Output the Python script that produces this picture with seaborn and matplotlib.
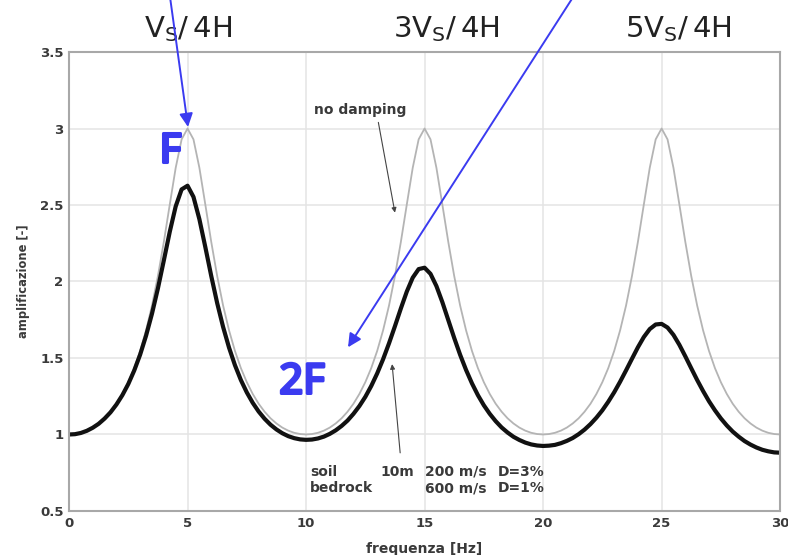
import numpy as np
import pandas as pd
import matplotlib
matplotlib.use("Agg")
import matplotlib.pyplot as plt
import matplotlib.patheffects as pe
import seaborn as sns

# amplification, 0..30 Hz every 0.25 Hz
amp_undamped = [
    1.000, 1.003, 1.011, 1.025, 1.045, 1.072, 1.106, 1.149, 1.201, 1.265,
    1.342, 1.434, 1.546, 1.681, 1.843, 2.036, 2.259, 2.503, 2.743, 2.929,
    3.000, 2.929, 2.743, 2.503, 2.259, 2.036, 1.843, 1.681, 1.546, 1.434,
    1.342, 1.265, 1.201, 1.149, 1.106, 1.072, 1.045, 1.025, 1.011, 1.003,
    1.000, 1.003, 1.011, 1.025, 1.045, 1.072, 1.106, 1.149, 1.201, 1.265,
    1.342, 1.434, 1.546, 1.681, 1.843, 2.036, 2.259, 2.503, 2.743, 2.929,
    3.000, 2.929, 2.743, 2.503, 2.259, 2.036, 1.843, 1.681, 1.546, 1.434,
    1.342, 1.265, 1.201, 1.149, 1.106, 1.072, 1.045, 1.025, 1.011, 1.003,
    1.000, 1.003, 1.011, 1.025, 1.045, 1.072, 1.106, 1.149, 1.201, 1.265,
    1.342, 1.434, 1.546, 1.681, 1.843, 2.036, 2.259, 2.503, 2.743, 2.929,
    3.000, 2.929, 2.743, 2.503, 2.259, 2.036, 1.843, 1.681, 1.546, 1.434,
    1.342, 1.265, 1.201, 1.149, 1.106, 1.072, 1.045, 1.025, 1.011, 1.003,
    1.000,
]
amp_damped = [
    1.000, 1.002, 1.010, 1.024, 1.044, 1.070, 1.104, 1.145, 1.196, 1.257,
    1.330, 1.418, 1.522, 1.646, 1.790, 1.955, 2.138, 2.325, 2.491, 2.602,
    2.626, 2.553, 2.407, 2.225, 2.036, 1.859, 1.703, 1.568, 1.453, 1.356,
    1.275, 1.207, 1.150, 1.103, 1.064, 1.033, 1.008, 0.989, 0.976, 0.968,
    0.965, 0.967, 0.974, 0.986, 1.004, 1.027, 1.056, 1.091, 1.135, 1.186,
    1.246, 1.317, 1.399, 1.492, 1.596, 1.708, 1.824, 1.934, 2.025, 2.081,
    2.090, 2.050, 1.970, 1.865, 1.748, 1.631, 1.521, 1.422, 1.334, 1.257,
    1.191, 1.135, 1.087, 1.046, 1.013, 0.985, 0.964, 0.947, 0.935, 0.928,
    0.925, 0.927, 0.932, 0.943, 0.958, 0.977, 1.002, 1.032, 1.068, 1.110,
    1.158, 1.214, 1.276, 1.345, 1.419, 1.495, 1.570, 1.637, 1.689, 1.719,
    1.723, 1.699, 1.651, 1.586, 1.511, 1.433, 1.356, 1.284, 1.217, 1.158,
    1.105, 1.059, 1.019, 0.986, 0.957, 0.934, 0.915, 0.900, 0.890, 0.883,
    0.881,
]
freq = np.linspace(0, 30, len(amp_undamped))

x_ticks = [0, 5, 10, 15, 20, 25, 30]
y_ticks = [0.5, 1, 1.5, 2, 2.5, 3, 3.5]
y_ticklabels = ["0.5", "1", "1.5", "2", "2.5", "3", "3.5"]

mode_labels = [r"$\mathregular{V_S/\,4H}$", r"$\mathregular{3V_S/\,4H}$",
               r"$\mathregular{5V_S/\,4H}$"]
mode_label_x = [5.0, 15.9, 25.7]

df = pd.DataFrame({"freq": freq, "undamped": amp_undamped, "damped": amp_damped})

sns.set_style("whitegrid")
plt.rcParams["font.family"] = ["DejaVu Sans"]

fig = plt.figure(figsize=(7.88, 5.55), dpi=100)
ax = fig.add_axes([0.0876, 0.0793, 0.9024, 0.827])

sns.lineplot(data=df, x="freq", y="undamped", ax=ax, color="#b4b4b4", lw=1.3)
sns.lineplot(data=df, x="freq", y="damped", ax=ax, color="#111111", lw=3.0)

ax.set_xlim(0, 30)
ax.set_ylim(0.5, 3.5)
ax.set_xticks(x_ticks)
ax.set_yticks(y_ticks)
ax.set_yticklabels(y_ticklabels)
ax.tick_params(axis="both", labelsize=9.5, colors="#3a3a3a", direction="in",
               length=3, pad=4)
for lab in ax.get_xticklabels() + ax.get_yticklabels():
    lab.set_fontweight("bold")
ax.grid(True, color="#e4e4e4", lw=1.1)
for sp in ax.spines.values():
    sp.set_color("#a8a8a8")
    sp.set_linewidth(1.5)

ax.set_xlabel("frequenza [Hz]", fontsize=10, fontweight="bold", color="#3a3a3a",
              labelpad=9)
ax.set_ylabel("amplificazione [-]", fontsize=8.3, fontweight="bold", color="#3a3a3a",
              labelpad=7)

for lab, xm in zip(mode_labels, mode_label_x):
    ax.text(xm, 3.65, lab, fontsize=21, ha="center", va="center", color="#222222",
            clip_on=False)

blue = "#3b3bf0"
bold_fx = [pe.withStroke(linewidth=2.2, foreground=blue)]
ax.text(4.25, 2.85, "F", fontsize=30, color=blue, family="Noto Sans",
        ha="center", va="center", path_effects=bold_fx)
ax.text(9.83, 1.34, "2F", fontsize=30, color=blue, family="Noto Sans",
        ha="center", va="center", path_effects=bold_fx)
ax.annotate("", xy=(5.02, 3.01), xytext=(4.26, 3.86), annotation_clip=False,
            arrowprops=dict(arrowstyle="-|>", color=blue, lw=1.4,
                            mutation_scale=20, shrinkA=0, shrinkB=0))
ax.annotate("", xy=(11.77, 1.57), xytext=(21.27, 3.86), annotation_clip=False,
            arrowprops=dict(arrowstyle="-|>", color=blue, lw=1.4,
                            mutation_scale=20, shrinkA=0, shrinkB=0))

# black annotations
txt = dict(fontsize=10, fontweight="bold", color="#3a3a3a", va="center")
ax.text(12.3, 3.12, "no damping", ha="center", **txt)
ax.annotate("", xy=(13.75, 2.45), xytext=(13.05, 3.04),
            arrowprops=dict(arrowstyle="-|>", color="#444444", lw=0.8,
                            mutation_scale=7, shrinkA=0, shrinkB=0))
ax.annotate("", xy=(13.63, 1.46), xytext=(13.97, 0.88),
            arrowprops=dict(arrowstyle="-|>", color="#444444", lw=0.8,
                            mutation_scale=7, shrinkA=0, shrinkB=0))
ax.text(10.17, 0.755, "soil", ha="left", **txt)
ax.text(10.17, 0.650, "bedrock", ha="left", **txt)
ax.text(13.15, 0.755, "10m", ha="left", **txt)
ax.text(15.0, 0.755, "200 m/s", ha="left", **txt)
ax.text(15.0, 0.650, "600 m/s", ha="left", **txt)
ax.text(18.1, 0.755, "D=3%", ha="left", **txt)
ax.text(18.1, 0.650, "D=1%", ha="left", **txt)

fig.savefig("out.png", dpi=100)
